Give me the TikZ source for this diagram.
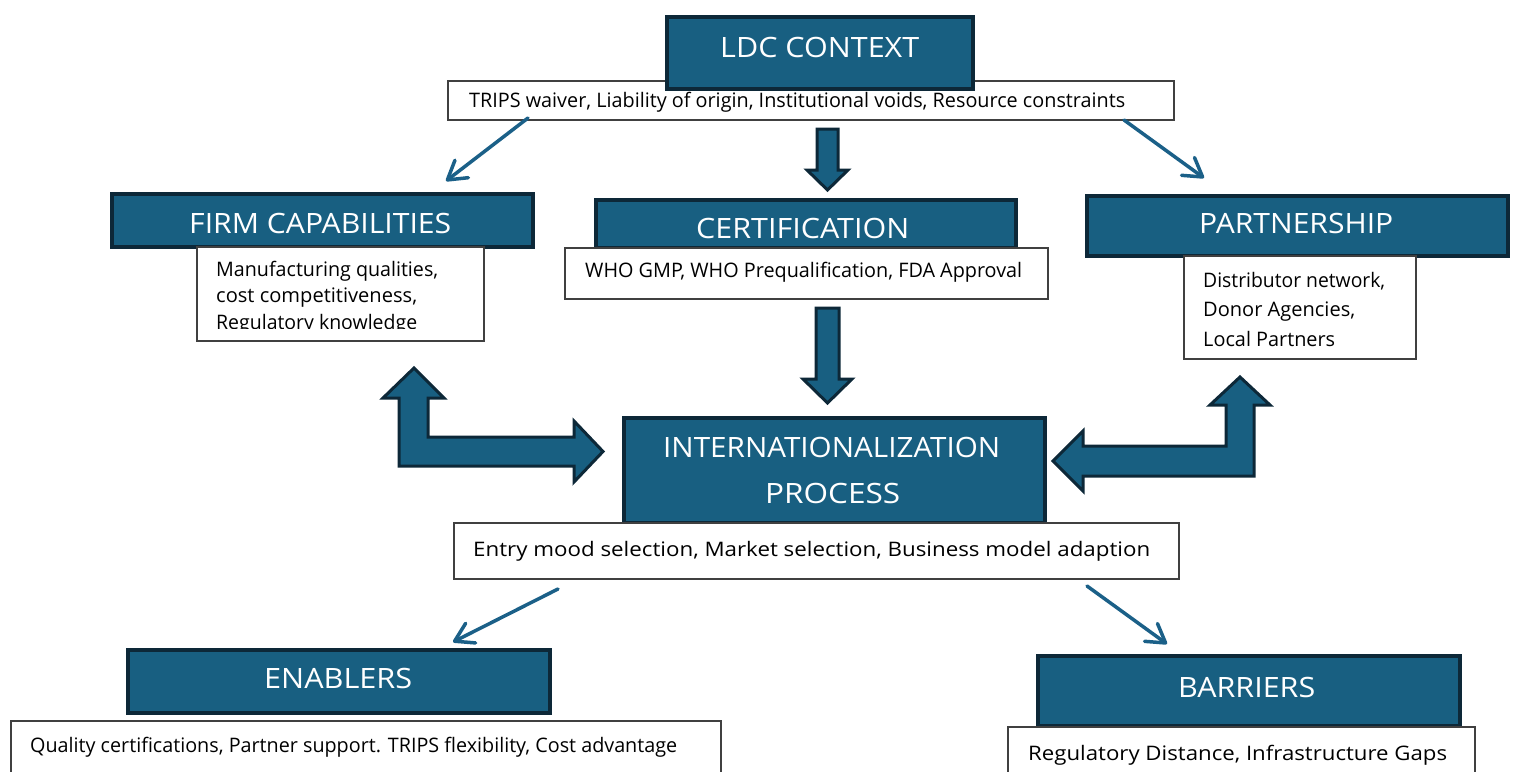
\documentclass[tikz,border=0pt]{standalone}
\usepackage{fontspec}
\setmainfont{Open Sans}
\usetikzlibrary{arrows.meta}
\definecolor{boxblue}{RGB}{24,95,129}
\definecolor{boxedge}{RGB}{13,40,56}
\definecolor{arrowblue}{RGB}{27,96,136}
\definecolor{textedge}{RGB}{64,64,64}
\newcommand\fitw[2]{\resizebox{#1pt}{\height}{#2}}
\tikzset{
  titlebox/.style={draw=boxedge, fill=boxblue, line width=3.5pt, line join=miter},
  infobox/.style={draw=textedge, fill=white, line width=1.6pt},
  ttl/.style={anchor=west, inner sep=0pt, text=white, font=\fontsize{28}{28}\selectfont, text height=20pt, text depth=0pt},
  bodytext/.style={anchor=west, inner sep=0pt, text=black, font=\fontsize{20}{20}\selectfont, text height=14pt, text depth=0pt},
  thinarrow/.style={draw=arrowblue, line width=3.5pt, line cap=round, -{Straight Barb[length=18pt, width=22pt, round]}},
  blockarrow/.style={fill=boxblue, draw=boxedge, line width=3pt, line join=miter}
}
\begin{document}
\begin{tikzpicture}[x=1pt, y=-1pt]
\useasboundingbox (0,0) rectangle (1517,771);

% ---------- LDC CONTEXT ----------
\node[infobox, anchor=north west, minimum width=726pt, minimum height=39pt, inner sep=0pt] (ldcinfo) at (447,80) {};
\node[titlebox, anchor=north west, minimum width=306pt, minimum height=72pt, inner sep=0pt] (ldc) at (665,15) {};
\node[ttl] (ldct) at (720,47) {\fitw{199}{LDC CONTEXT}};
\node[bodytext] (ldcb) at (469,100) {\fitw{656}{TRIPS waiver, Liability of origin, Institutional voids, Resource constraints}};

% ---------- FIRM CAPABILITIES ----------
\node[titlebox, anchor=north west, minimum width=421pt, minimum height=53pt, inner sep=0pt] (firm) at (110,192) {};
\node[infobox, anchor=north west, minimum width=287pt, minimum height=94pt, inner sep=0pt] (firminfo) at (196,246) {};
\node[ttl] (firmt) at (189,223) {\fitw{262}{FIRM CAPABILITIES}};
\node[bodytext] (firmb1) at (216,269) {\fitw{222}{Manufacturing qualities,}};
\node[bodytext] (firmb2) at (216,295.5) {\fitw{201}{cost competitiveness,}};
\begin{scope}
  \clip (197,247) rectangle (482,328);
  \node[bodytext] (firmb3) at (216,322) {\fitw{201}{Regulatory knowledge}};
\end{scope}

% ---------- CERTIFICATION ----------
\node[titlebox, anchor=north west, minimum width=420pt, minimum height=48pt, inner sep=0pt] (cert) at (594,198) {};
\node[infobox, anchor=north west, minimum width=483pt, minimum height=51pt, inner sep=0pt] (certinfo) at (564,247) {};
\node[ttl] (certt) at (696,228) {\fitw{213}{CERTIFICATION}};
\node[bodytext] (certb) at (585,270.5) {\fitw{437}{WHO GMP, WHO Prequalification, FDA Approval}};

% ---------- PARTNERSHIP ----------
\node[titlebox, anchor=north west, minimum width=421pt, minimum height=60pt, inner sep=0pt] (part) at (1085,194) {};
\node[infobox, anchor=north west, minimum width=232pt, minimum height=103pt, inner sep=0pt] (partinfo) at (1183,255) {};
\node[ttl] (partt) at (1199,223.5) {\fitw{194}{PARTNERSHIP}};
\node[bodytext] (partb1) at (1203,280) {\fitw{182}{Distributor network,}};
\node[bodytext] (partb2) at (1203,309.5) {\fitw{152}{Donor Agencies,}};
\node[bodytext] (partb3) at (1203,339) {\fitw{132}{Local Partners}};

% ---------- INTERNATIONALIZATION PROCESS ----------
\node[titlebox, anchor=north west, minimum width=421pt, minimum height=105pt, inner sep=0pt] (intl) at (622,416) {};
\node[infobox, anchor=north west, minimum width=725pt, minimum height=56pt, inner sep=0pt] (intlinfo) at (453,522) {};
\node[ttl] (intlt1) at (663,447) {\fitw{337}{INTERNATIONALIZATION}};
\node[ttl] (intlt2) at (765,493) {\fitw{135}{PROCESS}};
\node[bodytext] (intlb) at (473,549.5) {\fitw{677}{Entry mood selection, Market selection, Business model adaption}};

% ---------- ENABLERS ----------
\node[titlebox, anchor=north west, minimum width=422pt, minimum height=63pt, inner sep=0pt] (ena) at (126,648) {};
\node[infobox, anchor=north west, minimum width=710pt, minimum height=60pt, inner sep=0pt] (enainfo) at (10,720) {};
\node[ttl] (enat) at (264,678) {\fitw{148}{ENABLERS}};
\node[bodytext] (enab) at (30,745) {\fitw{647}{Quality certifications, Partner support. TRIPS flexibility, Cost advantage}};

% ---------- BARRIERS ----------
\node[titlebox, anchor=north west, minimum width=422pt, minimum height=70pt, inner sep=0pt] (bar) at (1036,654) {};
\node[infobox, anchor=north west, minimum width=467pt, minimum height=60pt, inner sep=0pt] (barinfo) at (1007,726) {};
\node[ttl] (bart) at (1178,687) {\fitw{137}{BARRIERS}};
\node[bodytext] (barb) at (1028,753.5) {\fitw{419}{Regulatory Distance, Infrastructure Gaps}};

% ---------- thin arrows ----------
\coordinate (a1s) at (528,118);  \coordinate (a1e) at (446,181);
\coordinate (a2s) at (1124,120); \coordinate (a2e) at (1204,178);
\coordinate (a3s) at (558,589);  \coordinate (a3e) at (453,642);
\coordinate (a4s) at (1087,586); \coordinate (a4e) at (1167,644);
\draw[thinarrow] (a1s) -- (a1e);
\draw[thinarrow] (a2s) -- (a2e);
\draw[thinarrow] (a3s) -- (a3e);
\draw[thinarrow] (a4s) -- (a4e);

% ---------- block arrows ----------
% LDC -> certification
\draw[blockarrow] (817,129) -- (838,129) -- (838,170) -- (848,170) -- (827.5,190) -- (807,170) -- (817,170) -- cycle;
% certification -> internationalization
\draw[blockarrow] (816,308) -- (839,308) -- (839,379) -- (852,379) -- (827.5,403) -- (803,379) -- (816,379) -- cycle;
% firm capabilities <-> internationalization
\draw[blockarrow] (399,398) -- (383,398) -- (414,368) -- (444,398) -- (428,398) -- (428,437) -- (574,437) -- (574,421) -- (603,451.5) -- (574,482) -- (574,466) -- (399,466) -- cycle;
% partnership <-> internationalization
\draw[blockarrow] (1254,405) -- (1270,405) -- (1240,377) -- (1210,405) -- (1226,405) -- (1226,446) -- (1083,446) -- (1083,431) -- (1053,461) -- (1083,491) -- (1083,476) -- (1254,476) -- cycle;
\end{tikzpicture}
\end{document}
